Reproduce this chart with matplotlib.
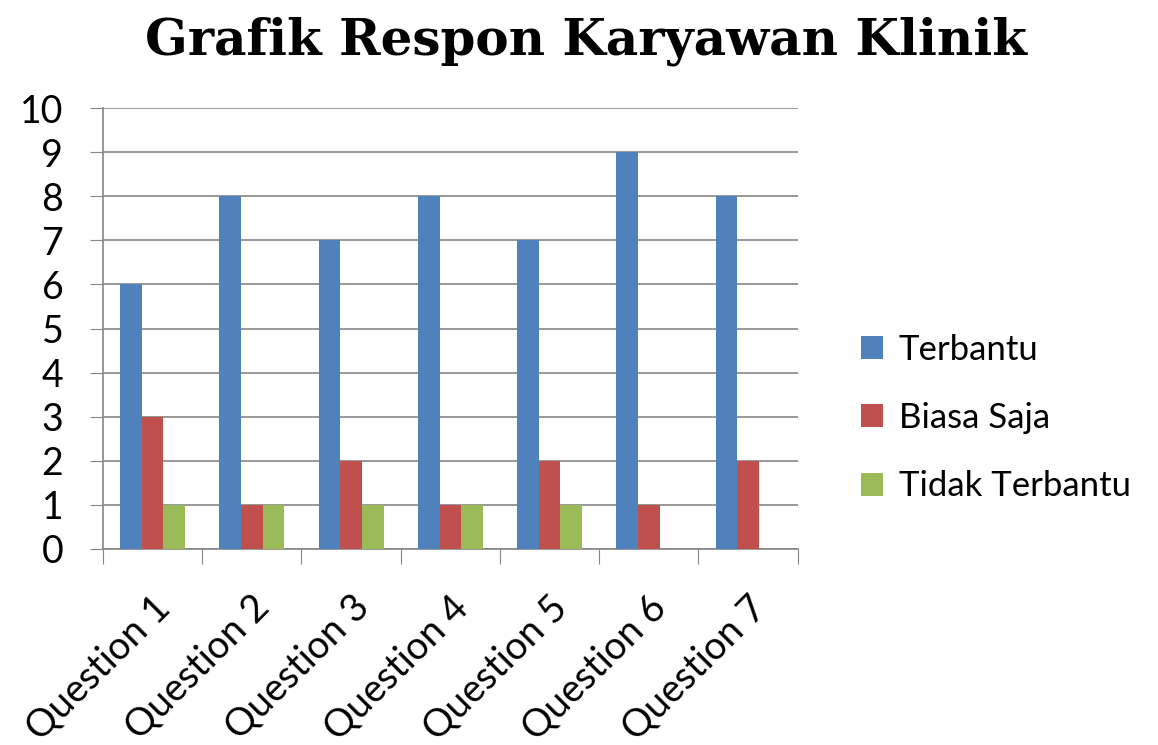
import numpy as np
import matplotlib
matplotlib.use("Agg")
import matplotlib.pyplot as plt

# data
questions = ["Question 1", "Question 2", "Question 3", "Question 4",
             "Question 5", "Question 6", "Question 7"]
terbantu = [6, 8, 7, 8, 7, 9, 8]
biasa_saja = [3, 1, 2, 1, 2, 1, 2]
tidak_terbantu = [1, 1, 1, 1, 1, 0, 0]

series_names = ["Terbantu", "Biasa Saja", "Tidak Terbantu"]
colors = ["#4F81BD", "#C0504D", "#9BBB59"]

plt.rcParams['font.family'] = ['Lato', 'DejaVu Sans']

fig = plt.figure(figsize=(11.58, 7.45), dpi=100)
ax = fig.add_axes([0.0889, 0.2631, 0.6, 0.5919])

x = np.arange(len(questions))
w = 0.218
for i, (vals, name, col) in enumerate(zip([terbantu, biasa_saja, tidak_terbantu],
                                           series_names, colors)):
    ax.bar(x + (i - 1) * w, vals, width=w, color=col, label=name, zorder=3)

ax.set_xlim(-0.5, len(questions) - 0.5)
ax.set_ylim(0, 10)
ax.set_yticks(range(0, 11))
ax.tick_params(axis='y', labelsize=27, length=9.5, color='#868686', pad=19)

# category boundary ticks on x axis, labels on the category centres
ax.set_xticks(np.arange(-0.5, len(questions)), minor=False)
ax.set_xticklabels([])
ax.tick_params(axis='x', which='major', length=11, color='#868686', direction='out')
ax.set_xticks(x + 0.12, minor=True)
ax.set_xticklabels(questions, minor=True, rotation=45, ha='right', va='center',
                   rotation_mode='anchor', fontsize=27.5)
ax.tick_params(axis='x', which='minor', length=0, pad=38)

ax.grid(axis='y', color='#868686', linewidth=1.2, zorder=0)
for s in ['top', 'right']:
    ax.spines[s].set_visible(False)
for s in ['left', 'bottom']:
    ax.spines[s].set_color('#868686')
    ax.spines[s].set_linewidth(1.2)

ax.legend(loc='center left', bbox_to_anchor=(1.066, 0.297), frameon=False,
          fontsize=25, borderpad=0, handlelength=0.64, handleheight=0.64,
          handletextpad=0.45, labelspacing=1.05)

fig.text(0.506, 0.944, "Grafik Respon Karyawan Klinik", ha='center', va='center',
         fontsize=36, fontweight='bold', family='DejaVu Serif')

fig.savefig("out.png", dpi=100, facecolor='white')
